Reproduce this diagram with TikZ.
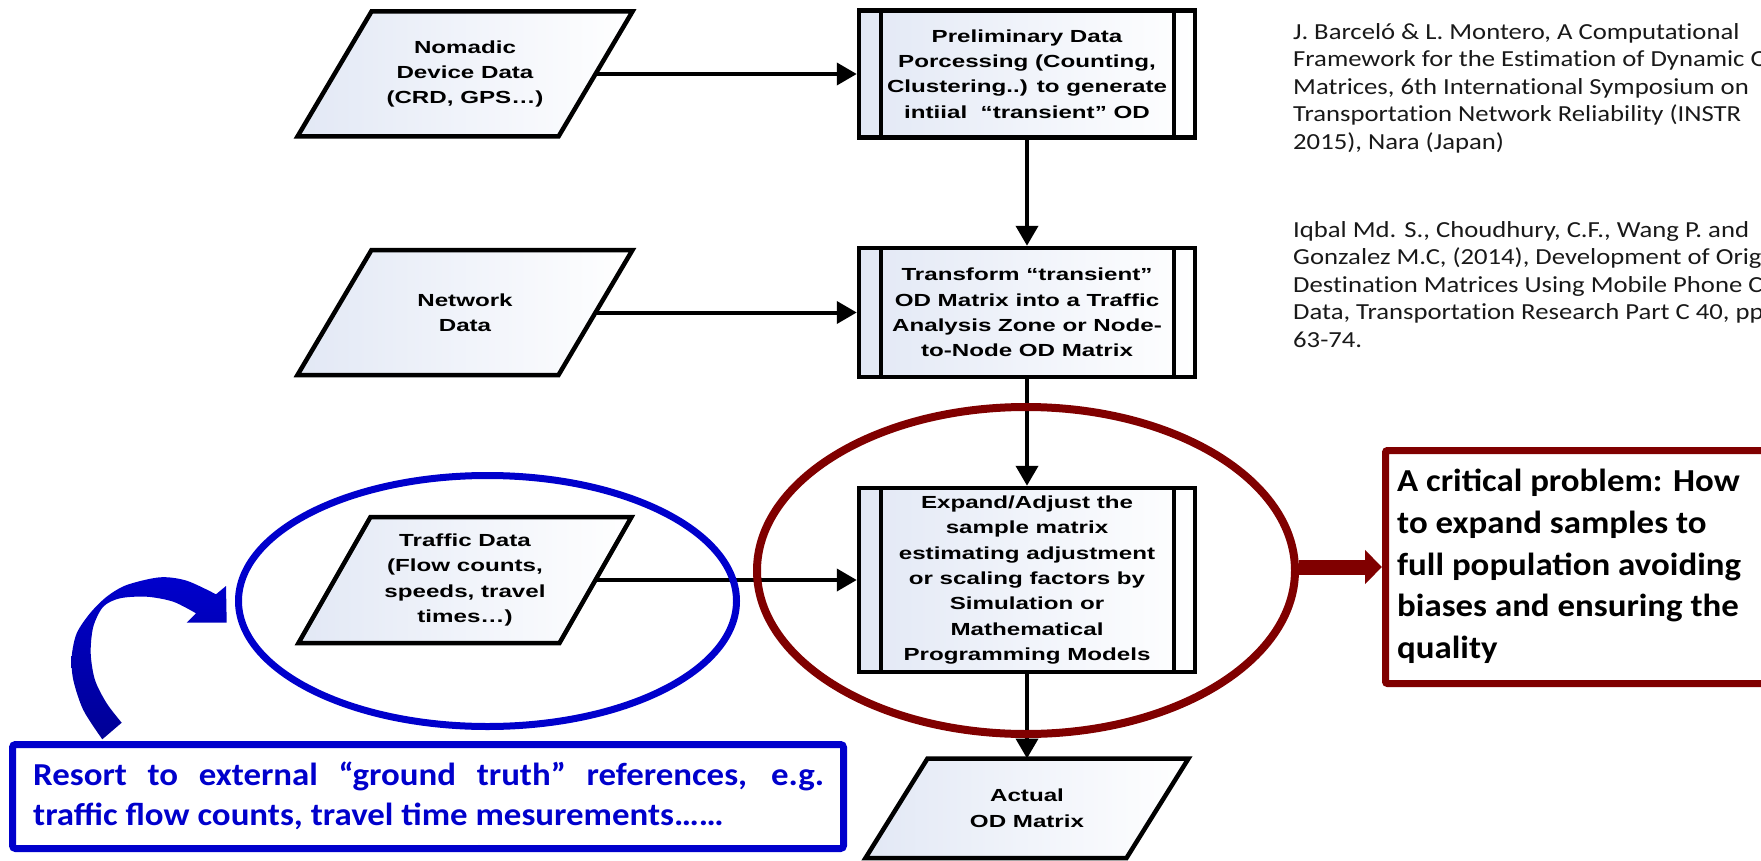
\documentclass[tikz,border=0pt]{standalone}
\usepackage{fontspec}
\newfontfamily\arialx{Liberation Sans}[FakeStretch=1.38]
\newfontfamily\calib{Carlito}[FakeStretch=1.09]
\newfontfamily\calibref{Carlito}[FakeStretch=1.16, Ligatures=NoCommon]
\usetikzlibrary{arrows.meta,shapes.geometric,calc}
\definecolor{ublue}{RGB}{0,0,204}
\definecolor{ubluedk}{RGB}{0,0,150}
\definecolor{dred}{RGB}{128,0,0}
\definecolor{pfill}{RGB}{226,232,245}
\pgfdeclarelayer{bg}
\pgfsetlayers{bg,main}
\tikzset{
  flowtext/.style={font=\arialx\bfseries\fontsize{17.5}{25.3}\selectfont, align=center, inner sep=0pt},
  paranode/.style={flowtext, minimum width=261pt, minimum height=#1, outer sep=0pt},
  paraborder/.style={draw=black, line width=4.5pt, line join=miter, left color=pfill, right color=white},
  procbox/.style={flowtext, draw=black, line width=4.5pt, left color=pfill, right color=white,
    minimum width=336pt, minimum height=#1,
    path picture={\draw[black, line width=3.5pt]
      ([xshift=22pt]path picture bounding box.north west) -- ([xshift=22pt]path picture bounding box.south west)
      ([xshift=-21pt]path picture bounding box.north east) -- ([xshift=-21pt]path picture bounding box.south east);}},
  flowarrow/.style={draw=black, line width=4pt, -{Triangle[length=20pt,width=22pt]}},
  redarrow/.style={draw=dred, line width=15pt, -{Triangle[length=17pt,width=33pt]}},
  crittext/.style={font=\calib\bfseries\fontsize{32}{41.67}\selectfont, align=left, inner sep=0pt},
  bluetext/.style={font=\calib\bfseries\fontsize{32}{40}\selectfont, text=ublue, align=left, inner sep=0pt},
  reftext/.style={font=\calibref\fontsize{23}{27.4}\selectfont, text={black!90}, align=left, inner sep=0pt},
}
\newcommand\paraoutline[2]{%
  \begin{pgfonlayer}{bg}
  \path[paraborder] ([xshift=#2]#1.north west) -- ([xshift=#2]#1.north east)
     -- ([xshift=-#2]#1.south east) -- ([xshift=-#2]#1.south west) -- cycle;
  \end{pgfonlayer}}
\begin{document}
\begin{tikzpicture}[x=1pt,y=-1pt]
\useasboundingbox (0,0) rectangle (1761,861);
\clip (0,0) rectangle (1761,861);

% input parallelograms
\node[paranode=125pt] (nom) at (465,74) {Nomadic\\Device Data\\(CRD, GPS…)};
\paraoutline{nom}{37pt}
\node[paranode=125pt] (net) at (465,312.5) {Network\\Data};
\paraoutline{net}{37pt}
\node[paranode=126pt] (tra) at (465,580) {Traffic Data\\(Flow counts,\\speeds, travel\\times…)};
\paraoutline{tra}{36pt}
\node[paranode=99.5pt] (act) at (1027,808.25) {Actual\\OD Matrix};
\paraoutline{act}{31pt}

% process boxes
\node[procbox=127pt] (b1) at (1027,74) {Preliminary Data\\Porcessing (Counting,\\Clustering..) to generate\\intiial\ \ “transient” OD};
\node[procbox=129pt] (b2) at (1027,312.5) {Transform “transient”\\OD Matrix into a Traffic\\Analysis Zone or Node-\\to-Node OD Matrix};
\node[procbox=184pt] (b3) at (1027,580) {Expand/Adjust the\\sample matrix\\estimating adjustment\\or scaling factors by\\Simulation or\\Mathematical\\Programming Models};

% connectors
\draw[flowarrow] (nom.east) -- (b1.west);
\draw[flowarrow] (net.east) -- (b2.west);
\draw[flowarrow] (tra.east) -- (b3.west);
\draw[flowarrow] (b1.south) -- (b2.north);
\draw[flowarrow] (b2.south) -- (b3.north);
\draw[flowarrow] (b3.south) -- (act.north);

% highlight ellipses
\node[draw=ublue, line width=7pt, ellipse, minimum width=498pt, minimum height=251pt, inner sep=0pt] (bell) at (487.5,601) {};
\node[draw=dred, line width=8pt, ellipse, minimum width=538pt, minimum height=327pt, inner sep=0pt] (rell) at (1026,570.5) {};

% critical problem box
\node[draw=dred, line width=7pt, rounded corners=2pt, minimum width=415pt, minimum height=233pt,
      inner sep=0pt, outer sep=0pt, anchor=west] (rbox) at (1385.5,567) {};
\draw[redarrow] (rell.east |- rbox.west) -- ([xshift=-3.5pt]rbox.west);
\node[crittext, anchor=base west] (rtext) at (1397,658.4)
  {A critical problem: How\\to expand samples to\\full population avoiding\\biases and ensuring the\\quality};

% ground truth box
\node[draw=ublue, line width=7pt, rounded corners=3pt, minimum width=831pt, minimum height=104pt, inner sep=0pt] (bbox) at (428,796.5) {};
\node[bluetext, anchor=base west] (btext) at (33,825)
  {\makebox[791pt][s]{Resort to external “ground truth” references, e.g.}\\traffic flow counts, travel time mesurements……};

% curved block arrow
\shade[top color=ublue, bottom color=ubluedk]
  plot[smooth] coordinates {(102.3,739.3) (83.3,710) (73.3,680) (71.7,656.7) (76.7,633.3) (90,613.3)
     (106.7,596.7) (126.7,585) (160,577.3) (186.7,580.7) (216,594.3)}
  -- (226,586) -- (226.7,622.7) -- (186.7,622.7)
  -- plot[smooth] coordinates {(196,613.3) (173.3,601.7) (146.7,596.7) (120,598.3) (103.3,606.7)
     (93.3,626.7) (90.7,653.3) (95,680) (106.7,703.3) (121.7,722.7)}
  -- cycle;

% references
\node[reftext, anchor=base west] (ref1) at (1293,149.1)
  {J. Barceló \& L. Montero, A Computational\\Framework for the Estimation of Dynamic OD\\Matrices, 6th International Symposium on\\Transportation Network Reliability (INSTR\\2015), Nara (Japan)};
\node[reftext, anchor=base west] (ref2) at (1293,347)
  {Iqbal Md. S., Choudhury, C.F., Wang P. and\\Gonzalez M.C, (2014), Development of Origin-\\Destination Matrices Using Mobile Phone Call\\Data, Transportation Research Part C 40, pp.\\63-74.};
\end{tikzpicture}
\end{document}
